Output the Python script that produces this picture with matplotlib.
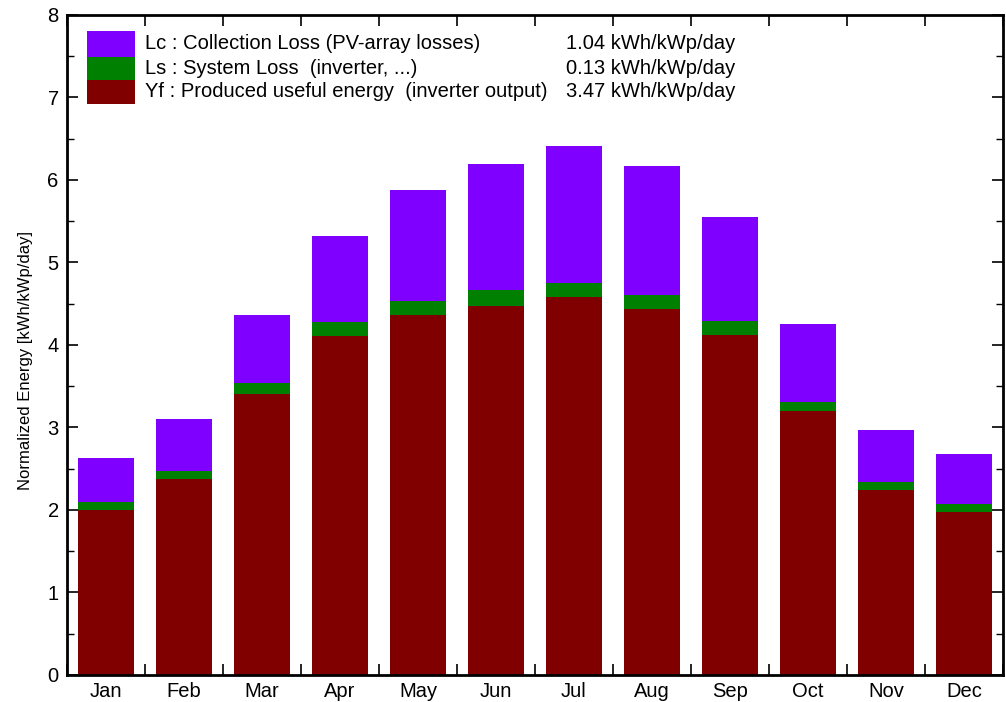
import matplotlib
matplotlib.use('Agg')
import matplotlib.pyplot as plt
import numpy as np
from matplotlib.patches import Rectangle
from matplotlib.ticker import MultipleLocator

# monthly normalized energies [kWh/kWp/day]
months = ['Jan', 'Feb', 'Mar', 'Apr', 'May', 'Jun',
          'Jul', 'Aug', 'Sep', 'Oct', 'Nov', 'Dec']
yf = [2.00, 2.37, 3.41, 4.11, 4.36, 4.47, 4.58, 4.44, 4.12, 3.20, 2.24, 1.98]
ls = [0.10, 0.10, 0.13, 0.17, 0.17, 0.20, 0.17, 0.16, 0.17, 0.11, 0.10, 0.09]
lc = [0.53, 0.63, 0.82, 1.04, 1.35, 1.52, 1.66, 1.57, 1.26, 0.94, 0.63, 0.61]

legend_labels = ['Lc : Collection Loss (PV-array losses)',
                 'Ls : System Loss  (inverter, ...)',
                 'Yf : Produced useful energy  (inverter output)']
legend_values = ['1.04 kWh/kWp/day', '0.13 kWh/kWp/day', '3.47 kWh/kWp/day']

c_lc = '#8000ff'
c_ls = '#008000'
c_yf = '#800000'

plt.rcParams['font.family'] = ['Liberation Sans', 'DejaVu Sans']

fig = plt.figure(figsize=(10.06, 7.02), dpi=100)
ax = fig.add_axes([0.0666, 0.0385, 0.9304, 0.9402])

x = np.arange(len(months))
yf_a = np.array(yf)
ls_a = np.array(ls)
lc_a = np.array(lc)
w = 0.73
ax.bar(x, yf_a, width=w, color=c_yf, edgecolor='none')
ax.bar(x, ls_a, width=w, bottom=yf_a, color=c_ls, edgecolor='none')
ax.bar(x, lc_a, width=w, bottom=yf_a + ls_a, color=c_lc, edgecolor='none')

ax.set_xlim(-0.5, len(months) - 0.5)
ax.set_ylim(0, 8)

# month labels centred, ticks at month boundaries
ax.set_xticks(np.arange(len(months) + 1) - 0.5)
ax.set_xticklabels([])
ax.set_xticks(x, minor=True)
ax.set_xticklabels(months, minor=True, fontsize=14.5)
ax.tick_params(axis='x', which='major', direction='in', length=8, width=1.2,
               top=True, bottom=True)
ax.tick_params(axis='x', which='minor', length=0, pad=5)

ax.yaxis.set_major_locator(MultipleLocator(1))
ax.yaxis.set_minor_locator(MultipleLocator(0.5))
ax.tick_params(axis='y', which='major', direction='in', length=8, width=1.2,
               left=True, right=True, labelsize=14.5, pad=6)
ax.tick_params(axis='y', which='minor', direction='in', length=5, width=1.0,
               left=True, right=True)
for s in ax.spines.values():
    s.set_linewidth(2)

ax.set_ylabel('Normalized Energy [kWh/kWp/day]', fontsize=12)
ax.yaxis.set_label_coords(-0.036, 0.477)

# legend block drawn in pixel-like axes coordinates
def to_ax(px, py):
    return ((px - 67) / 936.0, (675 - py) / 660.0)

box_x0, box_x1 = 87, 135
rows = [(31, 57, c_lc), (57, 80, c_ls), (80, 104, c_yf)]
for (y0, y1, col), lab, val in zip(rows, legend_labels, legend_values):
    ax0, ay1 = to_ax(box_x0, y1)
    ax1, ay0 = to_ax(box_x1, y0)
    ax.add_patch(Rectangle((ax0, ay1), ax1 - ax0, ay0 - ay1, transform=ax.transAxes,
                           facecolor=col, edgecolor='none'))
    tx, ty = to_ax(145, (y0 + y1) / 2.0)
    ax.text(tx, ty, lab, transform=ax.transAxes, fontsize=14.5, va='center', ha='left')
    vx, _ = to_ax(735, 0)
    ax.text(vx, ty, val, transform=ax.transAxes, fontsize=14.5, va='center', ha='right')

fig.savefig('out.png', dpi=100)
